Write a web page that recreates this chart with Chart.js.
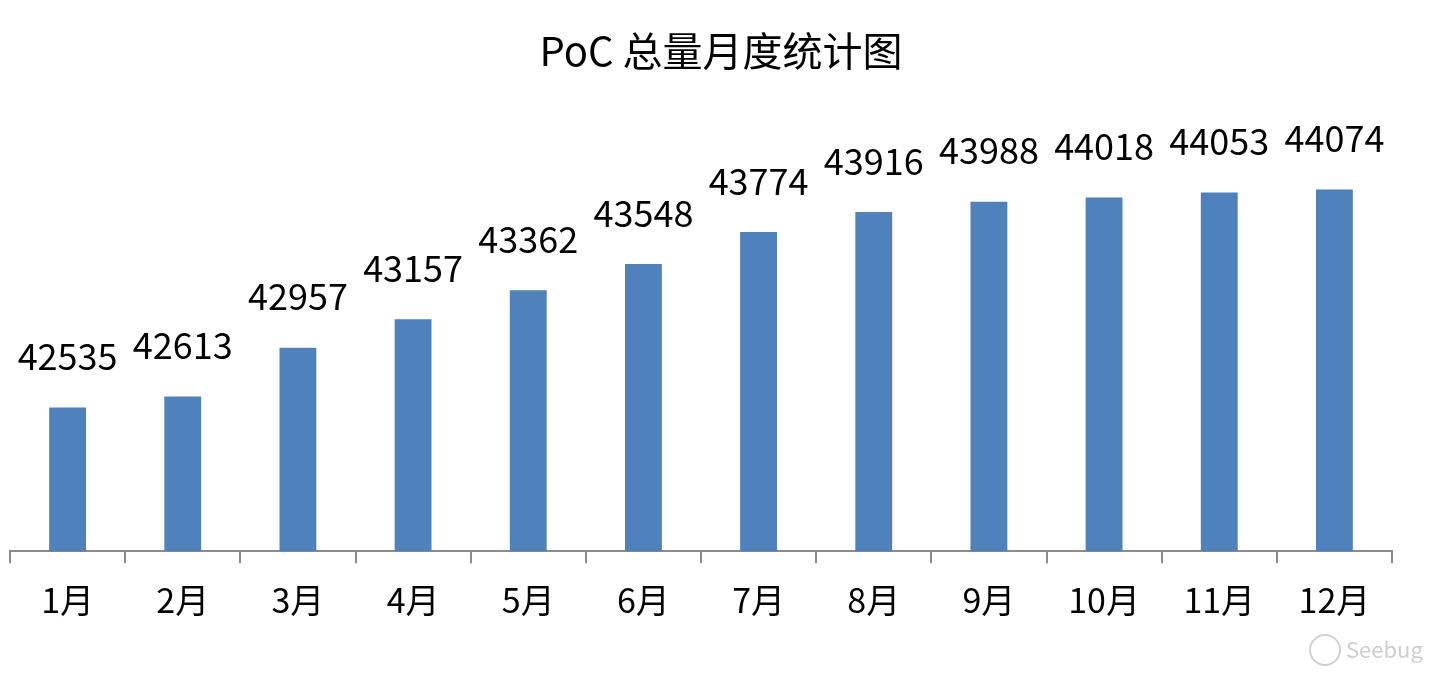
<!DOCTYPE html>
<html>
<head>
<meta charset="utf-8">
<script src="https://cdn.jsdelivr.net/npm/chart.js@4/dist/chart.umd.min.js"></script>
<style>
  html, body { margin: 0; padding: 0; background: #fff; }
  #wrap { width: 1452px; height: 678px; }
</style>
</head>
<body>
<div id="wrap"><canvas id="myChart" width="1452" height="678"></canvas></div>
<script>
const months = ["1月", "2月", "3月", "4月", "5月", "6月", "7月", "8月", "9月", "10月", "11月", "12月"];
const pocTotals = [42535, 42613, 42957, 43157, 43362, 43548, 43774, 43916, 43988, 44018, 44053, 44074];
const yMin = 41520;
const yMax = 44706;
const chartTitle = 'PoC 总量月度统计图';

const font = '"Noto Sans CJK SC", "Noto Sans", sans-serif';

// title (centred a bit right of the plot, as in the original)
const titlePlugin = {
    id: 'titlePlugin',
    afterDraw(chart) {
        const ctx = chart.ctx;
        ctx.save();
        ctx.font = '40px ' + font;
        ctx.fillStyle = '#000';
        ctx.textAlign = 'center';
        ctx.textBaseline = 'middle';
        ctx.fillText(chartTitle, 721, 51);
        ctx.restore();
    }
};

// value labels above each bar
const barLabels = {
    id: 'barLabels',
    afterDatasetsDraw(chart) {
        const ctx = chart.ctx;
        const meta = chart.getDatasetMeta(0);
        ctx.save();
        ctx.font = '36px ' + font;
        ctx.fillStyle = '#000';
        ctx.textAlign = 'center';
        ctx.textBaseline = 'bottom';
        meta.data.forEach((bar, i) => {
            ctx.fillText(String(pocTotals[i]), bar.x, bar.y - 33);
        });
        ctx.restore();
    }
};

// faint watermark in the corner
const watermark = {
    id: 'watermark',
    afterDraw(chart) {
        const ctx = chart.ctx;
        ctx.save();
        ctx.strokeStyle = '#d0d0d0';
        ctx.lineWidth = 2;
        ctx.beginPath();
        ctx.arc(1325, 650, 15, 0, Math.PI * 2);
        ctx.stroke();
        ctx.font = '22px ' + font;
        ctx.fillStyle = '#cfcfcf';
        ctx.textAlign = 'left';
        ctx.textBaseline = 'middle';
        ctx.fillText('Seebug', 1346, 650);
        ctx.restore();
    }
};

new Chart(document.getElementById('myChart'), {
    type: 'bar',
    data: {
        labels: months,
        datasets: [{
            data: pocTotals,
            backgroundColor: '#4F81BD',
            borderWidth: 0,
            categoryPercentage: 1,
            barPercentage: 0.32
        }]
    },
    options: {
        responsive: false,
        animation: false,
        layout: { padding: { left: 10, right: 60, top: 100, bottom: 42 } },
        plugins: {
            legend: { display: false },
            tooltip: { enabled: false },
            title: { display: false }
        },
        scales: {
            x: {
                offset: true,
                grid: {
                    offset: true,
                    drawOnChartArea: false,
                    drawTicks: true,
                    tickLength: 12,
                    tickColor: '#8c8c8c',
                    lineWidth: 2
                },
                border: { display: true, color: '#8c8c8c', width: 2 },
                ticks: {
                    color: '#000',
                    font: { family: font, size: 34 },
                    padding: 16,
                    maxRotation: 0
                }
            },
            y: {
                display: false,
                min: yMin,
                max: yMax
            }
        }
    },
    plugins: [titlePlugin, barLabels, watermark]
});
</script>
</body>
</html>
